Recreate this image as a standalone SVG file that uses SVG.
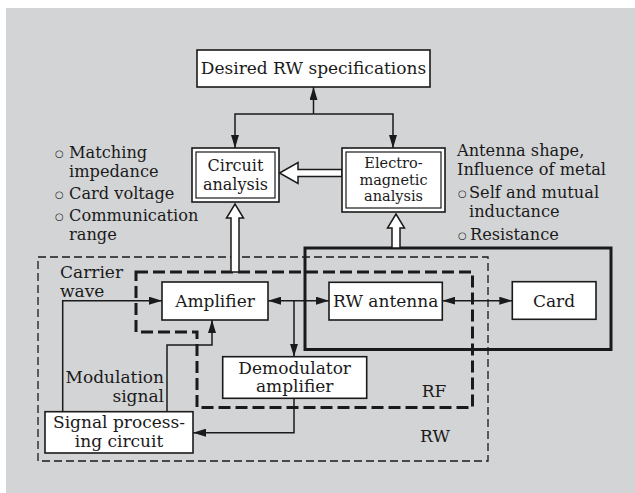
<svg xmlns="http://www.w3.org/2000/svg" width="635" height="493" viewBox="0 0 635 493">
<defs>
<marker id="ah" viewBox="0 0 13 8" refX="13" refY="4" markerWidth="13" markerHeight="8" markerUnits="userSpaceOnUse" orient="auto-start-reverse"><path d="M0,0 L13,4 L0,8 Z" fill="#1a1a1a"/></marker>
</defs>
<style>
.t{font-family:"DejaVu Serif","Liberation Serif",serif;font-size:17px;fill:#1a1a1a}
.n{font-size:16.2px}
.s15{font-size:14.5px}
.s16{font-size:16px}
.m{text-anchor:middle}
.e{text-anchor:end}
.box{fill:#fff;stroke:#1a1a1a;stroke-width:1.6}
.in{fill:none;stroke:#1a1a1a;stroke-width:1.2}
.ln{fill:none;stroke:#1a1a1a;stroke-width:1.5}
.hol{fill:#fff;stroke:#1a1a1a;stroke-width:1.5}
.b{font-family:"DejaVu Sans",sans-serif;font-size:10px}
</style>
<rect x="6" y="8" width="629" height="485" fill="#d3d4d6"/>

<g id="regions">
  <rect x="38" y="257" width="450" height="204" fill="none" stroke="#1a1a1a" stroke-width="1.3" stroke-dasharray="8 4"/>
  <path d="M136,272 H472.5 V407.5 H197 V332 H136 Z" fill="none" stroke="#1a1a1a" stroke-width="3" stroke-dasharray="12 5"/>
  <rect x="305" y="248" width="306" height="101.5" fill="none" stroke="#1a1a1a" stroke-width="3"/>
  <text class="t m" x="434" y="397">RF</text>
  <text class="t m" x="435" y="442">RW</text>
</g>

<g id="connectors">
  <path class="ln" d="M313.5,114 V87" marker-end="url(#ah)"/>
  <path class="ln" d="M313.5,114 H235 V148" marker-end="url(#ah)"/>
  <path class="ln" d="M313.5,114 H393 V148" marker-end="url(#ah)"/>
  <path class="ln" d="M268,300.7 H329" marker-start="url(#ah)" marker-end="url(#ah)"/>
  <path class="ln" d="M294,300.7 V356.7" marker-end="url(#ah)"/>
  <path class="ln" d="M442.3,300.7 H512.3" marker-start="url(#ah)" marker-end="url(#ah)"/>
  <path class="ln" d="M62.7,411.7 V300.7 H162" marker-end="url(#ah)"/>
  <path class="ln" d="M167,411.7 V345 H212 V320" marker-end="url(#ah)"/>
  <path class="ln" d="M294,398.3 V432.7 H193" marker-end="url(#ah)"/>
  <polygon class="hol" points="342,169.5 298,169.5 298,162.5 279.5,173 298,183.5 298,176.5 342,176.5"/>
  <polygon class="hol" points="231,272 231,218 226.5,218 235,204 243.5,218 239,218 239,272"/>
  <polygon class="hol" points="392,248 392,228 387.5,228 396,214 404.5,228 400,228 400,248"/>
  <text class="t" x="60" y="278">Carrier</text>
  <text class="t" x="60" y="297">wave</text>
  <text class="t e" x="164" y="383">Modulation</text>
  <text class="t e" x="164" y="402">signal</text>
</g>

<g id="desired">
  <rect class="box" x="197" y="50" width="233" height="37"/>
  <text class="t m" x="313.5" y="74">Desired RW specifications</text>
</g>

<g id="circuit">
  <rect class="box" x="192" y="148" width="87" height="54" stroke-width="2"/>
  <rect class="in" x="196" y="152" width="79" height="46"/>
  <text class="t s16 m" x="235.5" y="171">Circuit</text>
  <text class="t s16 m" x="235.5" y="190">analysis</text>
</g>

<g id="electro">
  <rect class="box" x="342" y="148" width="103" height="64" stroke-width="2"/>
  <rect class="in" x="346" y="152" width="95" height="56"/>
  <text class="t s15 m" x="393.5" y="168">Electro-</text>
  <text class="t s15 m" x="393.5" y="184.5">magnetic</text>
  <text class="t s15 m" x="393.5" y="201">analysis</text>
</g>

<g id="circuit-notes">
  <text class="t n"><tspan class="b" x="55" y="157">○</tspan><tspan x="69" y="158">Matching</tspan></text>
  <text class="t n" x="69" y="177">impedance</text>
  <text class="t n"><tspan class="b" x="55" y="198">○</tspan><tspan x="69" y="199">Card voltage</tspan></text>
  <text class="t n"><tspan class="b" x="55" y="220">○</tspan><tspan x="69" y="221">Communication</tspan></text>
  <text class="t n" x="69" y="240">range</text>
</g>

<g id="em-notes">
  <text class="t n" x="457" y="156">Antenna shape,</text>
  <text class="t n" x="457" y="175">Influence of metal</text>
  <text class="t n"><tspan class="b" x="458" y="197">○</tspan><tspan x="469" y="198">Self and mutual</tspan></text>
  <text class="t n" x="469" y="217">inductance</text>
  <text class="t n"><tspan class="b" x="458" y="239">○</tspan><tspan x="470" y="240">Resistance</tspan></text>
</g>

<g id="amplifier">
  <rect class="box" x="162" y="282" width="106" height="38"/>
  <text class="t m" x="215" y="307">Amplifier</text>
</g>

<g id="rw-antenna">
  <rect class="box" x="329" y="282.3" width="113.3" height="37.7"/>
  <text class="t m" x="385.7" y="307">RW antenna</text>
</g>

<g id="card">
  <rect class="box" x="512.3" y="281.7" width="83.7" height="37.6"/>
  <text class="t m" x="554" y="306.5">Card</text>
</g>

<g id="demodulator">
  <rect class="box" x="222.7" y="356.7" width="144" height="41.6"/>
  <text class="t m" x="294.7" y="374">Demodulator</text>
  <text class="t m" x="294.7" y="392">amplifier</text>
</g>

<g id="signal-processing">
  <rect class="box" x="45" y="411.7" width="148" height="41.3"/>
  <text class="t m" x="119" y="428">Signal process-</text>
  <text class="t m" x="119" y="447">ing circuit</text>
</g>
</svg>
